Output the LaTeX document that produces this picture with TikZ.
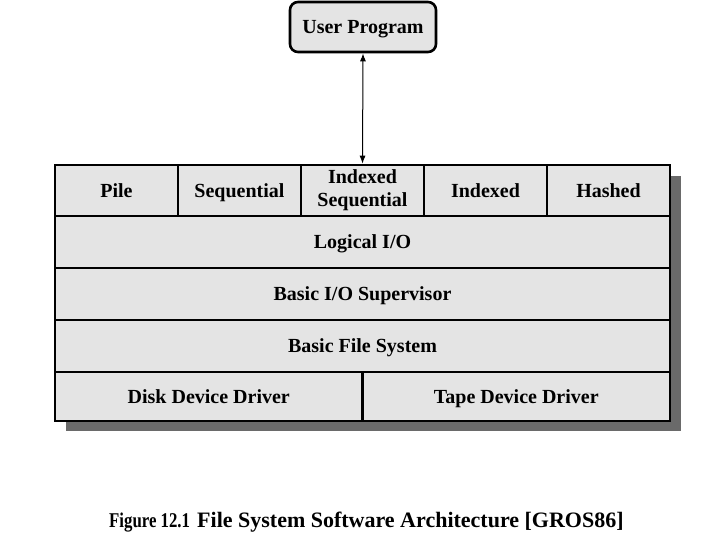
\documentclass[tikz,border=0pt]{standalone}
\usepackage{fontspec}
\setmainfont{Liberation Serif}
\usetikzlibrary{arrows.meta}
\definecolor{cellgray}{HTML}{E4E4E4}
\definecolor{shadowgray}{HTML}{6A6A6A}
\tikzset{
  cell/.style={draw=black, line width=2.6pt, fill=cellgray, inner sep=0pt, align=center,
    font=\fontsize{20}{23}\selectfont\bfseries},
  onel/.style={text height=15pt, text depth=1.5pt},
  userbox/.style={cell, onel, rounded corners=8pt, minimum width=146pt, minimum height=50pt},
  conn/.style={line width=1pt, {Latex[length=8pt,width=6pt]}-{Latex[length=8pt,width=6pt]}}
}
\begin{document}
\begin{tikzpicture}[x=1pt,y=-1pt]
\useasboundingbox (0,0) rectangle (720,540);
\fill[shadowgray] (66,176) rectangle (681,431);
\node[userbox] (user) at (363,27) {User Program};
\node[cell, onel, minimum width=123pt, minimum height=51pt] (pile) at (116.5,190.5) {Pile};
\node[cell, onel, minimum width=123pt, minimum height=51pt] (seq) at (239.5,190.5) {Sequential};
\node[cell, minimum width=123pt, minimum height=51pt] (iseq) at (362.5,190.5) {Indexed\\Sequential};
\node[cell, onel, minimum width=123pt, minimum height=51pt] (idx) at (485.5,190.5) {Indexed};
\node[cell, onel, minimum width=123pt, minimum height=51pt] (hash) at (608.5,190.5) {Hashed};
\node[cell, onel, minimum width=615pt, minimum height=52pt] (lio) at (362.5,242) {Logical I/O};
\node[cell, onel, minimum width=615pt, minimum height=52pt] (bios) at (362.5,294) {Basic I/O Supervisor};
\node[cell, onel, minimum width=615pt, minimum height=52pt] (bfs) at (362.5,346) {Basic File System};
\node[cell, onel, minimum width=307.5pt, minimum height=49pt] (disk) at (208.75,396.5) {Disk Device Driver};
\node[cell, onel, minimum width=307.5pt, minimum height=49pt] (tape) at (516.25,396.5) {Tape Device Driver};
\draw[conn] (user.south) -- (iseq.north);
\node[font=\fontsize{22}{24}\selectfont\bfseries, anchor=west, inner sep=0pt] (cap) at (109,522)
  {\makebox[88pt][l]{\fontsize{20}{22}\selectfont\scalebox{0.84}[1.05]{Figure 12.1}}File System Software Architecture [GROS86]};
\end{tikzpicture}
\end{document}
